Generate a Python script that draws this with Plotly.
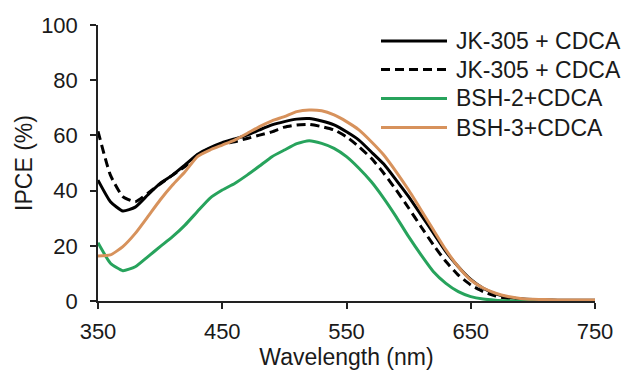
import plotly.graph_objects as go

wavelength = list(range(350, 760, 10))

jk305_solid = [43.8, 36.0, 32.6, 34.0, 38.4, 42.6, 45.6, 49.3, 53.1, 55.5,
               57.4, 58.7, 60.1, 62.0, 63.8, 65.0, 65.9, 66.1, 65.2, 63.8,
               61.3, 58.3, 54.0, 49.6, 43.8, 37.8, 31.2, 24.6, 17.9, 12.4,
               7.8, 4.6, 2.6, 1.4, 0.8, 0.5, 0.4, 0.3, 0.3, 0.3, 0.3]

jk305_dashed = [61.5, 45.6, 37.8, 36.0, 39.0, 42.4, 45.6, 48.7, 52.9, 55.3,
                56.9, 57.7, 58.9, 60.1, 61.3, 63.0, 63.8, 64.0, 63.2, 62.0,
                59.5, 55.9, 51.7, 46.3, 40.2, 33.7, 26.9, 20.3, 14.3, 9.4,
                5.8, 3.4, 1.8, 0.9, 0.5, 0.3, 0.2, 0.2, 0.2, 0.2, 0.2]

bsh2 = [21.1, 13.7, 11.0, 12.4, 16.0, 19.7, 23.3, 27.5, 32.4, 37.2,
        40.2, 42.6, 45.6, 48.9, 52.3, 54.7, 57.0, 58.1, 57.1, 55.3,
        52.3, 48.1, 43.2, 37.2, 30.5, 23.3, 16.7, 10.6, 6.4, 3.4,
        1.6, 0.7, 0.3, 0.1, 0.0, 0.0, 0.0, 0.0, 0.0, 0.0, 0.0]

bsh3 = [16.3, 16.7, 19.7, 24.5, 30.5, 36.6, 42.0, 46.8, 52.3, 54.7,
        56.5, 58.3, 60.7, 63.2, 65.3, 66.8, 68.6, 69.2, 68.9, 67.4,
        65.0, 62.0, 57.7, 52.9, 46.8, 40.2, 33.0, 25.7, 18.5, 12.4,
        7.6, 4.7, 2.8, 1.6, 0.9, 0.6, 0.5, 0.4, 0.4, 0.4, 0.4]

names = ["JK-305 + CDCA", "JK-305 + CDCA", "BSH-2+CDCA", "BSH-3+CDCA"]
colors = ["#000000", "#000000", "#27a35c", "#d7925c"]
dashes = ["solid", "9px,5px", "solid", "solid"]
series = [jk305_solid, jk305_dashed, bsh2, bsh3]
x_ticks = [350, 450, 550, 650, 750]
y_ticks = [0, 20, 40, 60, 80, 100]

FONT = "Arial, Liberation Sans, sans-serif"
TXT = "#1a1a1a"

fig = go.Figure()
for nm, col, ds, ys in zip(names, colors, dashes, series):
    fig.add_trace(go.Scatter(x=wavelength, y=ys, mode="lines", name=nm, showlegend=False,
                             line=dict(color=col, width=3, dash=ds, shape="spline", smoothing=0.5)))

# Manual legend (paper coordinates) to match the original row spacing
PL, PW, PB, PH = 98, 497, 301, 276  # plot-area pixel geometry
def px_x(p):
    return (p - PL) / PW
def px_y(p):
    return (PB - p) / PH

rows_y = [41, 69.5, 98.5, 127.5]
for nm, col, ds, ry in zip(names, colors, dashes, rows_y):
    fig.add_shape(type="line", xref="paper", yref="paper",
                  x0=px_x(381), x1=px_x(447), y0=px_y(ry), y1=px_y(ry),
                  line=dict(color=col, width=3, dash=ds))
    fig.add_annotation(xref="paper", yref="paper", x=px_x(454), y=px_y(ry),
                       text=nm, showarrow=False, xanchor="left", yanchor="middle",
                       font=dict(family=FONT, size=23, color=TXT))

fig.update_layout(
    width=624, height=374,
    margin=dict(l=PL, r=624 - PL - PW, t=PB - PH, b=374 - PB, autoexpand=False),
    paper_bgcolor="white", plot_bgcolor="white",
    font=dict(family=FONT, size=22, color=TXT),
    showlegend=False,
)
fig.update_xaxes(
    range=[350, 750], tickvals=x_ticks, ticktext=[str(v) for v in x_ticks],
    showline=True, linecolor="#222", linewidth=1.5, ticks="outside", ticklen=6,
    tickcolor="#222", tickwidth=1.5, showgrid=False, zeroline=False,
    ticklabelstandoff=4,
    title=dict(text="Wavelength (nm)", font=dict(size=23), standoff=5),
    tickfont=dict(size=22),
)
fig.update_yaxes(
    range=[0, 100], tickvals=y_ticks, ticktext=[str(v) for v in y_ticks],
    showline=True, linecolor="#222", linewidth=1.5, ticks="outside", ticklen=6,
    tickcolor="#222", tickwidth=1.5, showgrid=False, zeroline=False,
    ticklabelstandoff=8,
    title=dict(text="IPCE (%)", font=dict(size=23), standoff=2),
    tickfont=dict(size=22),
)

fig.write_html("out.html")
